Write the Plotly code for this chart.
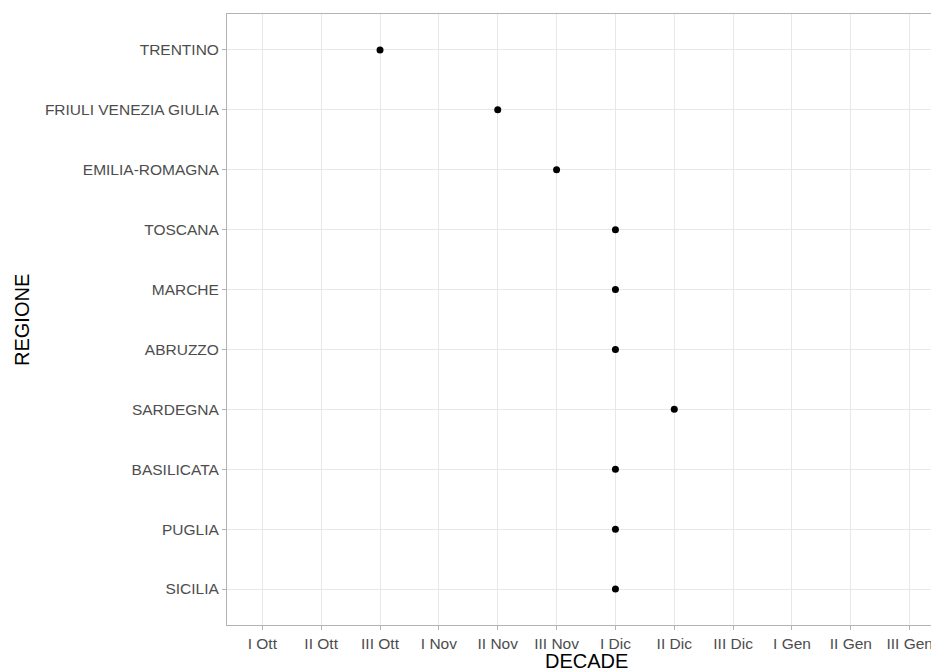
import plotly.graph_objects as go

decades = ["I Ott", "II Ott", "III Ott", "I Nov", "II Nov", "III Nov",
           "I Dic", "II Dic", "III Dic", "I Gen", "II Gen", "III Gen"]
regions = ["TRENTINO", "FRIULI VENEZIA GIULIA", "EMILIA-ROMAGNA", "TOSCANA",
           "MARCHE", "ABRUZZO", "SARDEGNA", "BASILICATA", "PUGLIA", "SICILIA"]
region_decade = ["III Ott", "II Nov", "III Nov", "I Dic", "I Dic", "I Dic",
                 "II Dic", "I Dic", "I Dic", "I Dic"]

xpos = [decades.index(d) for d in region_decade]

# ggplot-like panel that extends slightly past the 931px window on the right
W, H = 945, 671
L, T, B = 227, 14, 46

fig = go.Figure(go.Scatter(
    x=xpos, y=regions, mode="markers",
    marker=dict(color="black", size=7),
    hoverinfo="skip"))

fig.update_layout(
    width=W, height=H,
    margin=dict(l=L, r=0, t=T, b=B),
    paper_bgcolor="white", plot_bgcolor="white",
    font=dict(family="Liberation Sans, Arial, sans-serif"),
    showlegend=False,
    xaxis=dict(
        range=[-0.6, len(decades) - 0.4],
        tickmode="array", tickvals=list(range(len(decades))), ticktext=decades,
        showgrid=True, gridcolor="#e8e8e8", gridwidth=1,
        zeroline=False,
        showline=True, linecolor="#b3b3b3", linewidth=1, mirror=True,
        ticks="outside", ticklen=4, tickcolor="#b3b3b3",
        tickfont=dict(size=15.5, color="#4d4d4d"),
        ticklabeloverflow="allow",
        fixedrange=True,
    ),
    yaxis=dict(
        type="category",
        categoryorder="array", categoryarray=regions[::-1],
        range=[-0.6, len(regions) - 0.4],
        showgrid=True, gridcolor="#e8e8e8", gridwidth=1,
        zeroline=False,
        showline=True, linecolor="#b3b3b3", linewidth=1, mirror=True,
        ticks="outside", ticklen=4, tickcolor="#b3b3b3",
        tickfont=dict(size=15.5, color="#4d4d4d"),
        fixedrange=True,
    ),
    annotations=[
        dict(text="DECADE", xref="paper", yref="paper",
             x=0.5, y=0, yshift=-36, xanchor="center", yanchor="middle",
             showarrow=False, font=dict(size=20, color="black")),
        dict(text="REGIONE", xref="paper", yref="paper",
             x=0, xshift=-(L - 22), y=(H - B - 320) / (H - B - T),
             xanchor="center", yanchor="middle", textangle=-90,
             showarrow=False, font=dict(size=20, color="black")),
    ],
)

fig.write_html(
    "out.html",
    config={"displayModeBar": False, "staticPlot": True},
    post_script="document.body.style.margin='0';document.body.style.overflow='hidden';",
)
